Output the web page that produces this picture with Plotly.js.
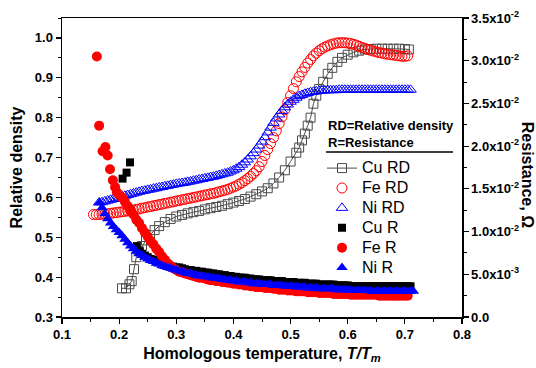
<!DOCTYPE html>
<html>
<head>
<meta charset="utf-8">
<script src="https://cdn.plot.ly/plotly-3.0.1.min.js"></script>
<style>html,body{margin:0;padding:0;background:#fff;}#chart{width:536px;height:368px;}</style>
</head>
<body>
<div id="chart"></div>
<script>
// ---- Data ----
var tempCuRD = [0.205,0.212,0.218,0.222,0.226,0.230,0.234,0.240,0.247,0.254,0.262,0.270,0.280,0.290,0.300,0.310,0.320,0.330,0.340,0.350,0.360,0.370,0.380,0.390,0.400,0.410,0.420,0.430,0.440,0.450,0.460,0.470,0.480,0.490,0.500,0.510,0.515,0.520,0.525,0.530,0.535,0.540,0.545,0.550,0.557,0.565,0.573,0.582,0.590,0.600,0.610,0.620,0.630,0.640,0.650,0.660,0.670,0.680,0.690,0.700,0.707];
var cuRD = [0.372,0.372,0.382,0.390,0.420,0.450,0.466,0.478,0.492,0.505,0.518,0.528,0.538,0.546,0.552,0.556,0.560,0.563,0.566,0.570,0.573,0.576,0.579,0.583,0.587,0.591,0.596,0.602,0.608,0.615,0.623,0.635,0.650,0.668,0.690,0.712,0.725,0.743,0.760,0.780,0.800,0.835,0.855,0.872,0.890,0.910,0.925,0.940,0.950,0.958,0.964,0.968,0.971,0.972,0.973,0.973,0.973,0.973,0.973,0.972,0.971];

var tempFeRD = [0.155,0.160,0.165,0.170,0.175,0.180,0.185,0.190,0.195,0.200,0.205,0.210,0.215,0.220,0.225,0.230,0.235,0.240,0.245,0.250,0.255,0.260,0.265,0.270,0.275,0.280,0.285,0.290,0.295,0.300,0.305,0.310,0.315,0.320,0.325,0.330,0.335,0.340,0.345,0.350,0.355,0.360,0.365,0.370,0.375,0.380,0.385,0.390,0.395,0.400,0.405,0.410,0.415,0.420,0.425,0.430,0.435,0.440,0.445,0.450,0.455,0.460,0.465,0.470,0.475,0.480,0.485,0.490,0.495,0.500,0.505,0.510,0.515,0.520,0.525,0.530,0.535,0.540,0.545,0.550,0.555,0.560,0.565,0.570,0.575,0.580,0.585,0.590,0.595,0.600,0.605,0.610,0.615,0.620,0.625,0.630,0.635,0.640,0.645,0.650,0.655,0.660,0.665,0.670,0.675,0.680,0.685,0.690,0.695,0.700,0.705];
var feRD = [0.557,0.557,0.557,0.558,0.558,0.559,0.560,0.561,0.562,0.563,0.564,0.565,0.566,0.567,0.568,0.570,0.571,0.573,0.574,0.576,0.577,0.579,0.580,0.582,0.583,0.585,0.586,0.588,0.589,0.591,0.592,0.594,0.595,0.597,0.598,0.600,0.601,0.603,0.604,0.606,0.607,0.609,0.610,0.612,0.614,0.616,0.618,0.620,0.623,0.626,0.629,0.633,0.637,0.642,0.647,0.653,0.660,0.667,0.677,0.690,0.705,0.720,0.735,0.750,0.767,0.785,0.802,0.820,0.838,0.855,0.873,0.890,0.903,0.915,0.926,0.937,0.946,0.955,0.962,0.968,0.973,0.977,0.980,0.983,0.985,0.987,0.988,0.988,0.988,0.987,0.986,0.984,0.982,0.979,0.976,0.974,0.971,0.969,0.967,0.965,0.963,0.962,0.960,0.959,0.958,0.957,0.956,0.955,0.954,0.954,0.955];

var tempNiRD = [0.165,0.170,0.175,0.180,0.185,0.190,0.195,0.200,0.205,0.210,0.215,0.220,0.225,0.230,0.235,0.240,0.245,0.250,0.255,0.260,0.265,0.270,0.275,0.280,0.285,0.290,0.295,0.300,0.305,0.310,0.315,0.320,0.325,0.330,0.335,0.340,0.345,0.350,0.355,0.360,0.365,0.370,0.375,0.380,0.385,0.390,0.395,0.400,0.405,0.410,0.415,0.420,0.425,0.430,0.435,0.440,0.445,0.450,0.455,0.460,0.465,0.470,0.475,0.480,0.485,0.490,0.495,0.500,0.505,0.510,0.515,0.520,0.525,0.530,0.535,0.540,0.545,0.550,0.555,0.560,0.565,0.570,0.575,0.580,0.585,0.590,0.595,0.600,0.605,0.610,0.615,0.620,0.625,0.630,0.635,0.640,0.645,0.650,0.655,0.660,0.665,0.670,0.675,0.680,0.685,0.690,0.695,0.700,0.705,0.710];
var niRD = [0.587,0.588,0.590,0.592,0.594,0.596,0.598,0.600,0.602,0.604,0.606,0.608,0.610,0.612,0.614,0.616,0.617,0.619,0.620,0.622,0.623,0.625,0.626,0.628,0.629,0.631,0.632,0.634,0.635,0.636,0.637,0.639,0.640,0.642,0.643,0.645,0.646,0.648,0.649,0.651,0.652,0.654,0.656,0.658,0.660,0.662,0.665,0.668,0.672,0.676,0.682,0.688,0.695,0.703,0.711,0.720,0.730,0.740,0.751,0.763,0.775,0.787,0.798,0.808,0.817,0.826,0.833,0.840,0.845,0.850,0.854,0.857,0.860,0.862,0.864,0.865,0.866,0.867,0.868,0.868,0.869,0.869,0.869,0.869,0.870,0.870,0.870,0.870,0.870,0.870,0.870,0.870,0.870,0.870,0.870,0.870,0.870,0.870,0.870,0.870,0.870,0.870,0.870,0.870,0.870,0.870,0.870,0.870,0.870,0.870];

var tempCuR = [0.206,0.213,0.219,0.231,0.236,0.240,0.245,0.250,0.255,0.260,0.265,0.270,0.275,0.280,0.285,0.290,0.295,0.300,0.305,0.310,0.315,0.320,0.325,0.330,0.335,0.340,0.345,0.350,0.355,0.360,0.365,0.370,0.375,0.380,0.385,0.390,0.395,0.400,0.405,0.410,0.415,0.420,0.425,0.430,0.435,0.440,0.445,0.450,0.455,0.460,0.465,0.470,0.475,0.480,0.485,0.490,0.495,0.500,0.505,0.510,0.515,0.520,0.525,0.530,0.535,0.540,0.545,0.550,0.555,0.560,0.565,0.570,0.575,0.580,0.585,0.590,0.595,0.600,0.605,0.610,0.615,0.620,0.625,0.630,0.635,0.640,0.645,0.650,0.655,0.660,0.665,0.670,0.675,0.680,0.685,0.690,0.695,0.700,0.705,0.710];
var cuR = [0.0162,0.0169,0.0181,0.0083,0.0077,0.0074,0.0072,0.0070,0.0068,0.0067,0.0065,0.0064,0.0062,0.0061,0.0060,0.0059,0.0059,0.0058,0.0058,0.0057,0.0056,0.0055,0.0055,0.0054,0.0054,0.0053,0.0053,0.0052,0.0052,0.0051,0.0051,0.0050,0.0050,0.0049,0.0049,0.0048,0.0048,0.0047,0.0047,0.0046,0.0046,0.0046,0.0045,0.0045,0.0044,0.0044,0.0044,0.0043,0.0043,0.0043,0.0043,0.0042,0.0042,0.0042,0.0042,0.0041,0.0041,0.0041,0.0041,0.0040,0.0040,0.0040,0.0040,0.0039,0.0039,0.0039,0.0039,0.0038,0.0038,0.0038,0.0038,0.0038,0.0038,0.0037,0.0037,0.0037,0.0037,0.0037,0.0036,0.0036,0.0036,0.0036,0.0036,0.0036,0.0036,0.0036,0.0036,0.0036,0.0036,0.0036,0.0036,0.0036,0.0036,0.0036,0.0036,0.0036,0.0036,0.0036,0.0036,0.0036];

var tempFeR = [0.161,0.165,0.171,0.176,0.180,0.184,0.189,0.193,0.196,0.200,0.205,0.210,0.215,0.220,0.225,0.230,0.235,0.240,0.245,0.250,0.255,0.260,0.265,0.270,0.275,0.280,0.285,0.290,0.295,0.300,0.305,0.310,0.315,0.320,0.325,0.330,0.335,0.340,0.345,0.350,0.355,0.360,0.365,0.370,0.375,0.380,0.385,0.390,0.395,0.400,0.405,0.410,0.415,0.420,0.425,0.430,0.435,0.440,0.445,0.450,0.455,0.460,0.465,0.470,0.475,0.480,0.485,0.490,0.495,0.500,0.505,0.510,0.515,0.520,0.525,0.530,0.535,0.540,0.545,0.550,0.555,0.560,0.565,0.570,0.575,0.580,0.585,0.590,0.595,0.600,0.605,0.610,0.615,0.620,0.625,0.630,0.635,0.640,0.645,0.650,0.655,0.660,0.665,0.670,0.675,0.680,0.685,0.690,0.695,0.700,0.705];
var feR = [0.0305,0.0224,0.0194,0.0199,0.0189,0.0173,0.0160,0.0152,0.0146,0.0143,0.0140,0.0135,0.0130,0.0125,0.0120,0.0114,0.0110,0.0104,0.0099,0.0094,0.0089,0.0085,0.0080,0.0076,0.0071,0.0067,0.0063,0.0060,0.0057,0.0055,0.0053,0.0052,0.0051,0.0050,0.0049,0.0048,0.0047,0.0046,0.0046,0.0045,0.0044,0.0043,0.0043,0.0042,0.0042,0.0041,0.0041,0.0040,0.0040,0.0039,0.0039,0.0038,0.0038,0.0037,0.0037,0.0036,0.0036,0.0035,0.0035,0.0035,0.0034,0.0034,0.0034,0.0033,0.0033,0.0032,0.0032,0.0032,0.0031,0.0031,0.0031,0.0030,0.0030,0.0030,0.0030,0.0029,0.0029,0.0029,0.0029,0.0028,0.0028,0.0028,0.0028,0.0028,0.0027,0.0027,0.0027,0.0027,0.0027,0.0027,0.0026,0.0026,0.0026,0.0026,0.0026,0.0026,0.0026,0.0026,0.0026,0.0026,0.0025,0.0025,0.0025,0.0025,0.0025,0.0025,0.0025,0.0025,0.0025,0.0025,0.0025];

var tempNiR = [0.166,0.170,0.175,0.180,0.185,0.190,0.195,0.200,0.205,0.210,0.215,0.220,0.225,0.230,0.235,0.240,0.245,0.250,0.255,0.260,0.265,0.270,0.275,0.280,0.285,0.290,0.295,0.300,0.305,0.310,0.315,0.320,0.325,0.330,0.335,0.340,0.345,0.350,0.355,0.360,0.365,0.370,0.375,0.380,0.385,0.390,0.395,0.400,0.405,0.410,0.415,0.420,0.425,0.430,0.435,0.440,0.445,0.450,0.455,0.460,0.465,0.470,0.475,0.480,0.485,0.490,0.495,0.500,0.505,0.510,0.515,0.520,0.525,0.530,0.535,0.540,0.545,0.550,0.555,0.560,0.565,0.570,0.575,0.580,0.585,0.590,0.595,0.600,0.605,0.610,0.615,0.620,0.625,0.630,0.635,0.640,0.645,0.650,0.655,0.660,0.665,0.670,0.675,0.680,0.685,0.690,0.695,0.700,0.705,0.710,0.715];
var niR = [0.0134,0.0128,0.0121,0.0115,0.0110,0.0106,0.0102,0.0099,0.0095,0.0091,0.0087,0.0083,0.0080,0.0077,0.0074,0.0072,0.0070,0.0068,0.0066,0.0065,0.0063,0.0062,0.0060,0.0059,0.0058,0.0057,0.0056,0.0055,0.0054,0.0053,0.0052,0.0051,0.0051,0.0050,0.0049,0.0048,0.0048,0.0047,0.0047,0.0046,0.0046,0.0045,0.0045,0.0044,0.0044,0.0043,0.0043,0.0042,0.0042,0.0041,0.0041,0.0041,0.0040,0.0040,0.0039,0.0039,0.0039,0.0038,0.0038,0.0038,0.0038,0.0037,0.0037,0.0037,0.0037,0.0036,0.0036,0.0036,0.0036,0.0035,0.0035,0.0035,0.0035,0.0034,0.0034,0.0034,0.0034,0.0033,0.0033,0.0033,0.0033,0.0033,0.0033,0.0032,0.0032,0.0032,0.0032,0.0032,0.0031,0.0031,0.0031,0.0031,0.0031,0.0031,0.0031,0.0030,0.0030,0.0030,0.0030,0.0030,0.0030,0.0030,0.0030,0.0030,0.0030,0.0030,0.0030,0.0030,0.0030,0.0030,0.0030];

var seriesNames = ['Cu RD','Fe RD','Ni RD','Cu R','Fe R','Ni R'];
var xTickVals = [0.1,0.2,0.3,0.4,0.5,0.6,0.7,0.8];
var resTickVals = [0,0.005,0.010,0.015,0.020,0.025,0.030,0.035];
var resTickText = ['0.0','5.0x10<sup>-3</sup>','1.0x10<sup>-2</sup>','1.5x10<sup>-2</sup>','2.0x10<sup>-2</sup>','2.5x10<sup>-2</sup>','3.0x10<sup>-2</sup>','3.5x10<sup>-2</sup>'];

// ---- Plot ----
var FONT = 'Liberation Sans, Arial, sans-serif';
function nm(s){ return '<span style="font-size:16px">' + s + '</span>'; }
var traces = [
  {x: tempCuRD, y: cuRD, name: nm(seriesNames[0]), mode: 'lines+markers', yaxis: 'y',
   line: {color: '#4a4a4a', width: 1},
   marker: {symbol: 'square-open', size: 9, color: '#4a4a4a', line: {width: 1}}},
  {x: tempFeRD, y: feRD, name: nm(seriesNames[1]), mode: 'markers', yaxis: 'y',
   marker: {symbol: 'circle-open', size: 10, color: '#ff0000', line: {width: 1}}},
  {x: tempNiRD, y: niRD, name: nm(seriesNames[2]), mode: 'markers', yaxis: 'y',
   marker: {symbol: 'triangle-up-open', size: 10, color: '#0000ff', line: {width: 1}}},
  {x: tempCuR, y: cuR, name: nm(seriesNames[3]), mode: 'markers', yaxis: 'y2',
   marker: {symbol: 'square', size: 8, color: '#000000'}},
  {x: tempFeR, y: feR, name: nm(seriesNames[4]), mode: 'markers', yaxis: 'y2',
   marker: {symbol: 'circle', size: 10, color: '#ff0000'}},
  {x: tempNiR, y: niR, name: nm(seriesNames[5]), mode: 'markers', yaxis: 'y2',
   marker: {symbol: 'triangle-up', size: 10, color: '#0000ff'}}
];

var layout = {
  width: 536, height: 368,
  margin: {l: 62, r: 74, t: 18, b: 51},
  paper_bgcolor: '#ffffff', plot_bgcolor: '#ffffff',
  font: {family: FONT, color: '#000', size: 13},
  showlegend: true,
  legend: {x: 0.65, y: 0.548, xanchor: 'left', yanchor: 'top',
           font: {family: FONT, size: 13, color: '#000'},
           bgcolor: 'rgba(0,0,0,0)', borderwidth: 0, tracegroupgap: 0, itemwidth: 30},
  xaxis: {range: [0.1, 0.8], tickvals: xTickVals, tickformat: '.1f',
          showline: true, linecolor: '#000', linewidth: 1.5, mirror: true,
          ticks: 'outside', ticklen: 5, tickwidth: 1.2, tickcolor: '#000',
          minor: {dtick: 0.05, ticks: 'outside', ticklen: 3, tickwidth: 1, tickcolor: '#000'},
          showgrid: false, zeroline: false,
          tickfont: {family: FONT, size: 13, weight: 'bold'},
          title: {text: 'Homologous temperature, <i>T/T<sub>m</sub></i>', standoff: 6,
                  font: {family: FONT, size: 16, weight: 'bold'}}},
  yaxis: {range: [0.3, 1.05], dtick: 0.1, tick0: 0, tickformat: '.1f',
          showline: true, linecolor: '#000', linewidth: 1.5,
          ticks: 'outside', ticklen: 5, tickwidth: 1.2, tickcolor: '#000',
          minor: {dtick: 0.05, ticks: 'outside', ticklen: 3, tickwidth: 1, tickcolor: '#000'},
          showgrid: false, zeroline: false,
          tickfont: {family: FONT, size: 13, weight: 'bold'},
          title: {text: 'Relative density', standoff: 8,
                  font: {family: FONT, size: 16, weight: 'bold'}}},
  yaxis2: {overlaying: 'y', side: 'right', range: [0, 0.035],
           tickvals: resTickVals, ticktext: resTickText,
           showline: true, linecolor: '#000', linewidth: 1.5,
           ticks: 'outside', ticklen: 5, tickwidth: 1.2, tickcolor: '#000',
           minor: {dtick: 0.0025, ticks: 'outside', ticklen: 3, tickwidth: 1, tickcolor: '#000'},
           showgrid: false, zeroline: false,
           tickfont: {family: FONT, size: 13, weight: 'bold'}},
  annotations: [
    {text: 'Resistance, Ω', xref: 'paper', yref: 'paper', x: 1.163, y: 0.475,
     textangle: 90, showarrow: false, xanchor: 'center', yanchor: 'middle',
     font: {family: FONT, size: 16, weight: 'bold', color: '#000'}},
    {text: 'RD=Relative density', xref: 'paper', yref: 'paper', x: 0.66, y: 0.642,
     showarrow: false, xanchor: 'left', yanchor: 'middle',
     font: {family: FONT, size: 13, weight: 'bold', color: '#000'}},
    {text: 'R=Resistance', xref: 'paper', yref: 'paper', x: 0.66, y: 0.582,
     showarrow: false, xanchor: 'left', yanchor: 'middle',
     font: {family: FONT, size: 13, weight: 'bold', color: '#000'}}
  ],
  shapes: [
    {type: 'line', xref: 'paper', yref: 'paper', x0: 0.66, x1: 0.9775, y0: 0.552, y1: 0.552,
     line: {color: '#000', width: 1.5}}
  ]
};

Plotly.newPlot('chart', traces, layout, {displayModeBar: false, staticPlot: true});
</script>
</body>
</html>
